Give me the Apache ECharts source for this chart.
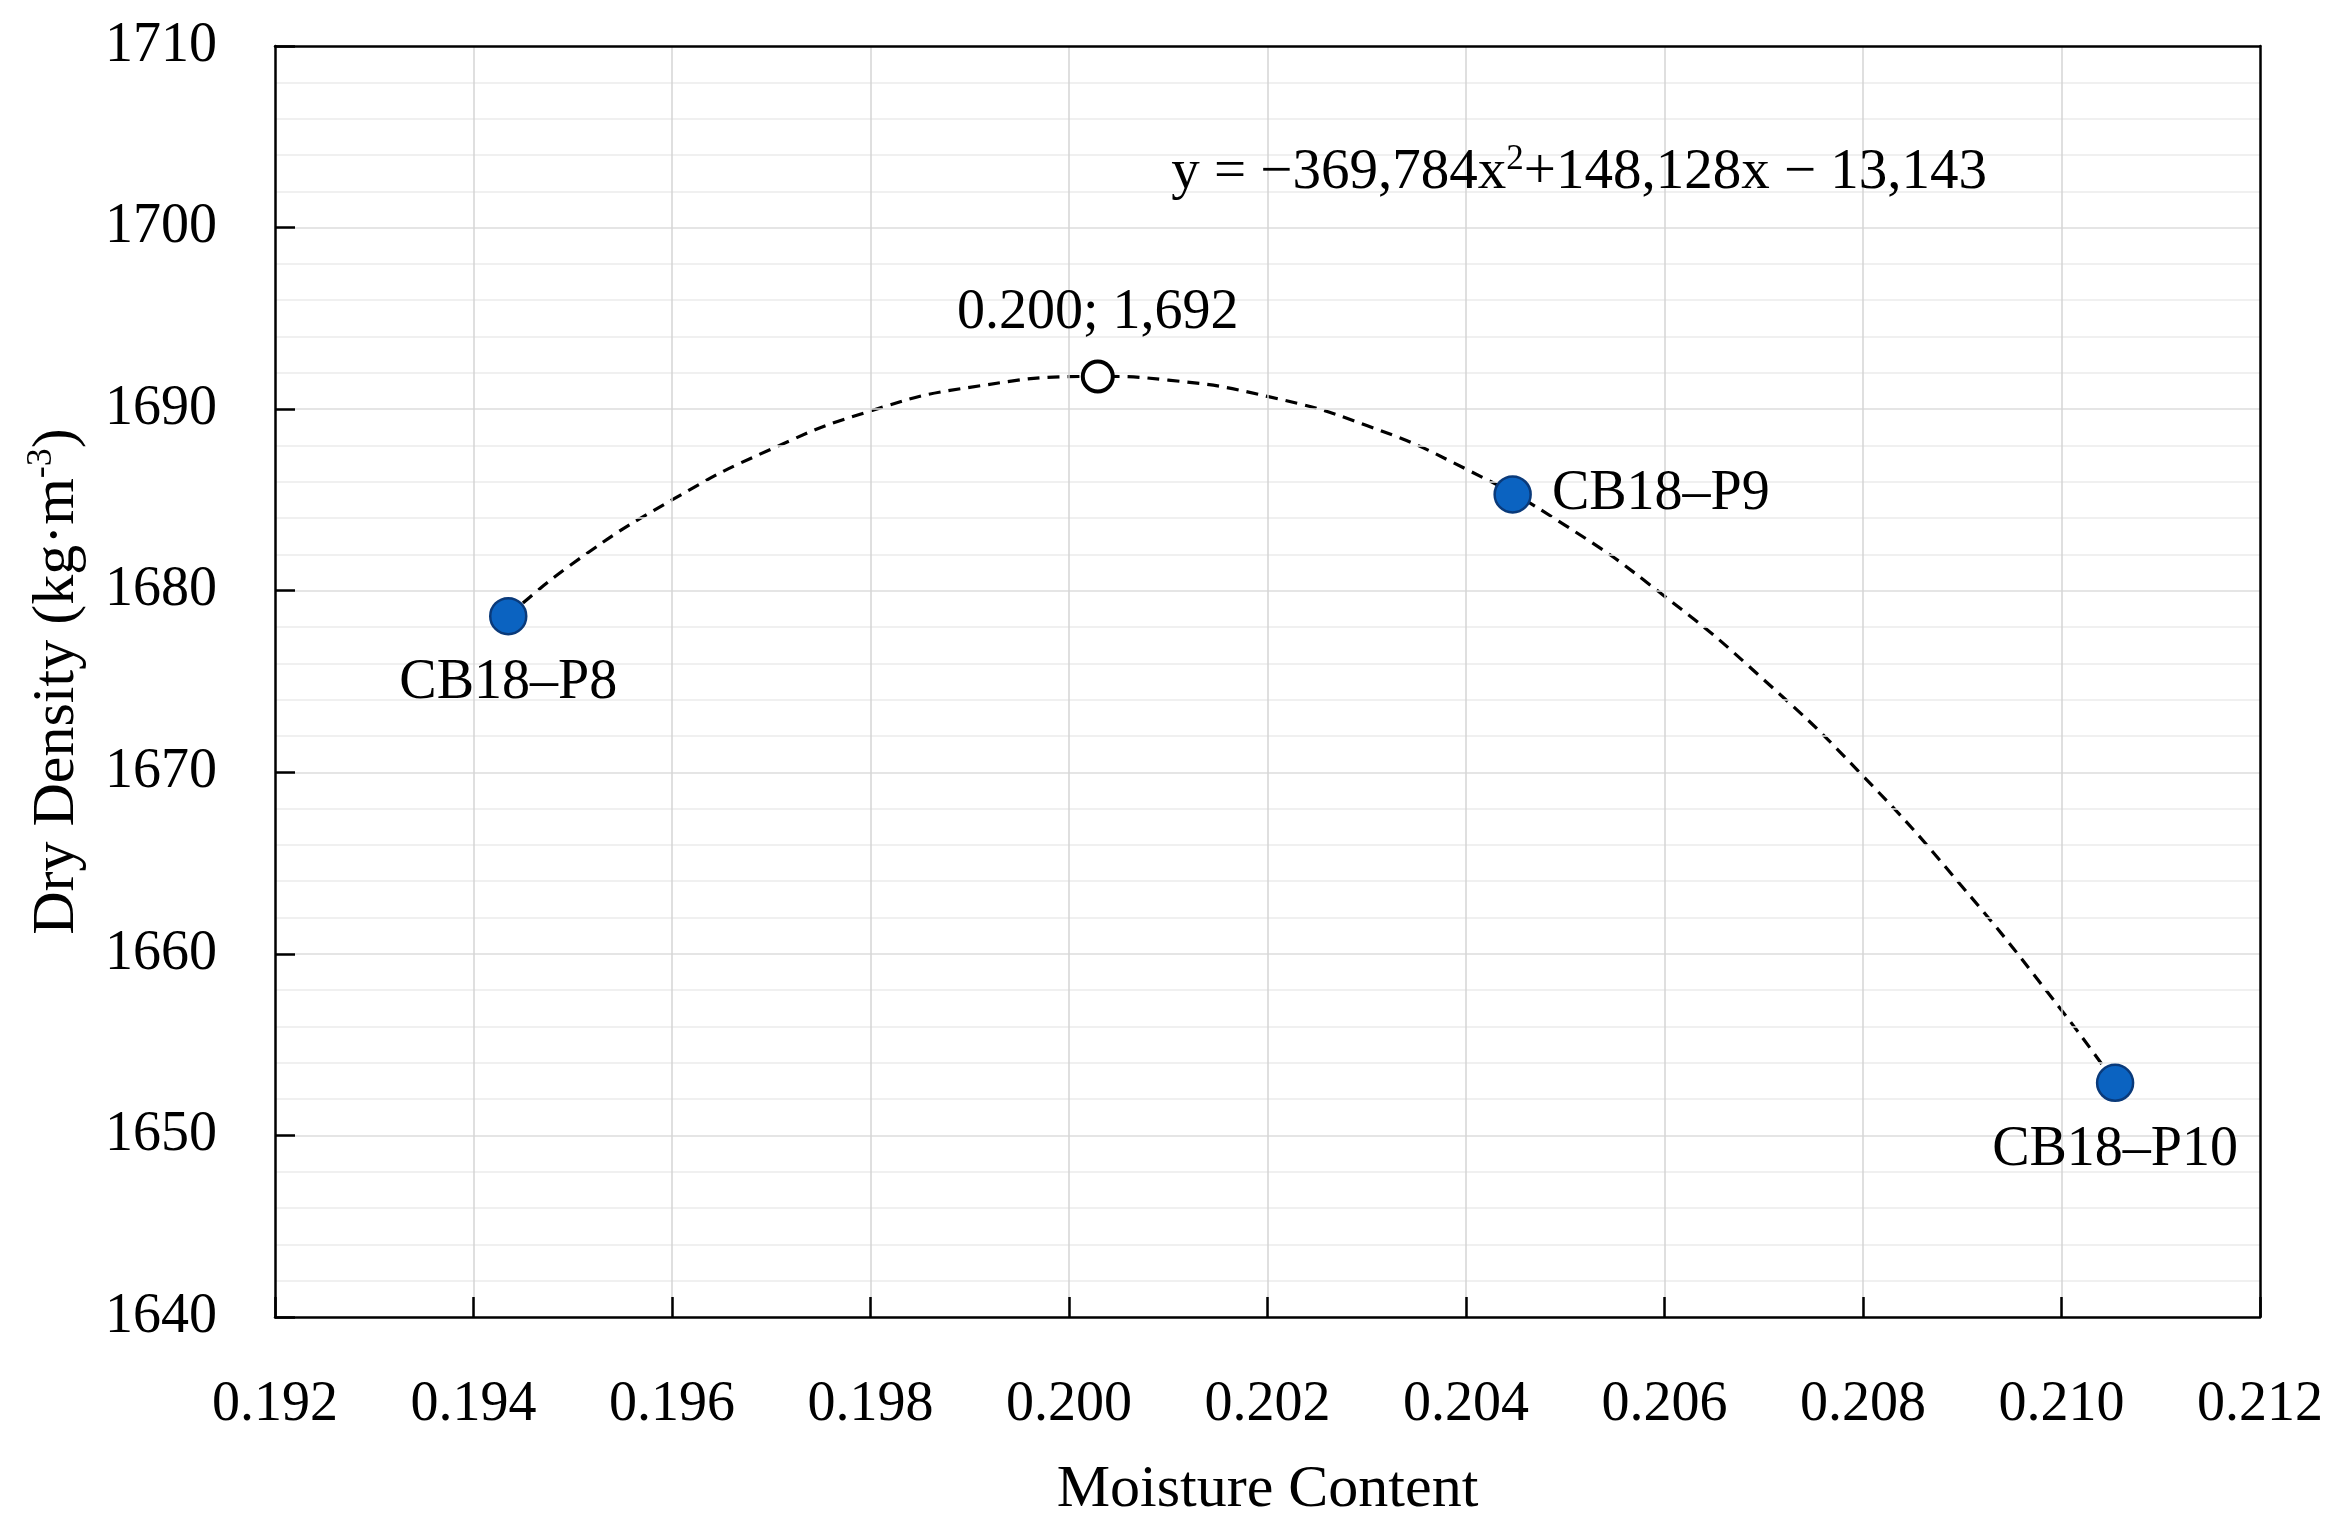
<!DOCTYPE html>
<html>
<head>
<meta charset="utf-8">
<script src="https://cdn.jsdelivr.net/npm/echarts@6/dist/echarts.min.js"></script>
<style>
html,body{margin:0;padding:0;background:#fff;}
#chart{width:2341px;height:1536px;}
</style>
</head>
<body>
<div id="chart"></div>
<script>
// ---- data ----
var sampleNames = ['CB18\u2013P8', 'CB18\u2013P9', 'CB18\u2013P10'];
var sampleMoisture = [0.19435, 0.20447, 0.21054];
var sampleDensity = [1678.6, 1685.3, 1652.9];

var optimumMoisture = [0.20029];
var optimumDensity = [1691.8];
var optimumLabel = '0.200; 1,692';

// dashed trend curve
var trendMoisture = [0.19435, 0.195, 0.196, 0.197, 0.198, 0.199, 0.2003, 0.201, 0.202, 0.203, 0.204, 0.205, 0.206, 0.207, 0.208, 0.209, 0.210, 0.21054];
var trendDensity  = [1678.6, 1681.5, 1685.0, 1687.8, 1689.9, 1691.2, 1691.8, 1691.6, 1690.7, 1689.1, 1686.7, 1683.6, 1679.7, 1675.1, 1669.8, 1663.7, 1656.9, 1652.9];

// equation annotation anchor (data coordinates)
var equationAnchor = [0.20514, 1703.0];

var xTicks = { min: 0.192, max: 0.212, step: 0.002 };
var yTicks = { min: 1640, max: 1710, step: 10 };

// ---- chart ----
var FONT = 'Liberation Serif';
var FS = 56;
var labelPositions = ['bottom', 'right', 'bottom'];

var chart = echarts.init(document.getElementById('chart'), null, {renderer: 'canvas'});

var sampleData = sampleNames.map(function (n, i) {
  return {
    value: [sampleMoisture[i], sampleDensity[i]],
    name: n,
    label: { position: labelPositions[i] }
  };
});

var frameLine = { show: true, lineStyle: { color: '#000', width: 2.5 } };

var option = {
  backgroundColor: '#ffffff',
  animation: false,
  grid: {
    left: 275, right: 81, top: 46, bottom: 219,
    show: true, borderColor: '#000', borderWidth: 0, backgroundColor: '#fff'
  },
  xAxis: [{
    type: 'value',
    min: xTicks.min, max: xTicks.max, interval: xTicks.step,
    name: 'Moisture Content',
    nameLocation: 'middle',
    nameGap: 143,
    nameMoveOverlap: false,
    nameTextStyle: { fontFamily: FONT, fontSize: 60, color: '#000' },
    axisLine: frameLine,
    axisTick: { show: true, inside: true, length: 20, lineStyle: { color: '#000', width: 2.5 } },
    axisLabel: {
      fontFamily: FONT, fontSize: FS, color: '#000', margin: 60,
      formatter: function (v) { return v.toFixed(3); }
    },
    splitLine: { show: true, showMinLine: false, showMaxLine: false, lineStyle: { color: '#d4d4d4', width: 1.5 } },
    z: 3
  }, {
    type: 'value', position: 'top',
    min: xTicks.min, max: xTicks.max, interval: xTicks.step,
    axisLine: frameLine, axisTick: { show: false }, axisLabel: { show: false }, splitLine: { show: false },
    z: 3
  }],
  yAxis: [{
    type: 'value',
    min: yTicks.min, max: yTicks.max, interval: yTicks.step,
    name: '{t|Dry Density (kg\u00b7m}{s|-3}{t|)}',
    nameLocation: 'middle',
    nameGap: 185,
    nameRotate: 90,
    nameTextStyle: {
      fontFamily: FONT, color: '#000',
      rich: {
        t: { fontFamily: FONT, fontSize: 60, color: '#000', lineHeight: 66 },
        s: { fontFamily: FONT, fontSize: 36, color: '#000', verticalAlign: 'top', lineHeight: 40 }
      }
    },
    axisLine: frameLine,
    axisTick: { show: true, inside: true, length: 20, lineStyle: { color: '#000', width: 2.5 } },
    axisLabel: {
      fontFamily: FONT, fontSize: FS, color: '#000', margin: 58,
      formatter: function (v) { return String(v); }
    },
    splitLine: { show: true, showMinLine: false, showMaxLine: false, lineStyle: { color: '#dcdcdc', width: 1.5 } },
    minorTick: { show: false, splitNumber: 5 },
    minorSplitLine: { show: true, lineStyle: { color: '#ebebeb', width: 1.5 } },
    z: 3
  }, {
    type: 'value', position: 'right',
    min: yTicks.min, max: yTicks.max, interval: yTicks.step,
    axisLine: frameLine, axisTick: { show: false }, axisLabel: { show: false }, splitLine: { show: false },
    z: 3
  }],
  series: [
    {
      type: 'line',
      data: trendMoisture.map(function (x, i) { return [x, trendDensity[i]]; }),
      smooth: true,
      symbol: 'none',
      lineStyle: { color: '#000', width: 3.2, type: [12, 8] },
      z: 2,
      silent: true
    },
    {
      type: 'scatter',
      data: sampleData,
      symbol: 'circle',
      symbolSize: 36,
      itemStyle: { color: '#0b63c1', borderColor: '#0a3a7a', borderWidth: 2.5, opacity: 1 },
      label: {
        show: true,
        formatter: function (p) { return p.name; },
        fontFamily: FONT, fontSize: FS, color: '#000',
        distance: 20
      },
      z: 5
    },
    {
      type: 'scatter',
      data: optimumMoisture.map(function (x, i) { return [x, optimumDensity[i]]; }),
      symbol: 'circle',
      symbolSize: 30,
      itemStyle: { color: '#fff', borderColor: '#000', borderWidth: 4, opacity: 1 },
      label: {
        show: true, position: 'top', distance: 18,
        formatter: optimumLabel,
        fontFamily: FONT, fontSize: FS, color: '#000'
      },
      z: 6
    },
    {
      type: 'scatter',
      data: [equationAnchor],
      symbolSize: 0,
      silent: true,
      itemStyle: { opacity: 1, color: '#000' },
      label: {
        show: true, position: 'inside', color: '#000', opacity: 1,
        formatter: '{t|y = \u2212369,784x}{s|2}{t|+148,128x \u2212 13,143}',
        rich: {
          t: { fontFamily: FONT, fontSize: 57, color: '#000', lineHeight: 62 },
          s: { fontFamily: FONT, fontSize: 35, color: '#000', verticalAlign: 'top', lineHeight: 40 }
        }
      },
      z: 7
    }
  ]
};

chart.setOption(option);
</script>
</body>
</html>
